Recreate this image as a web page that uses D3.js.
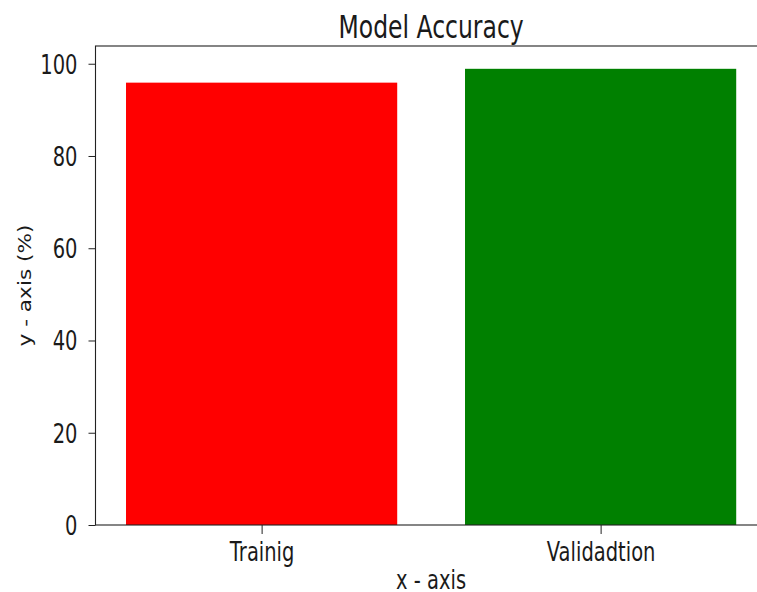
<!DOCTYPE html>
<html>
<head>
<meta charset="utf-8">
<script src="https://cdn.jsdelivr.net/npm/d3@7"></script>
<style>
  body { margin: 0; background: #fff; }
  text { font-family: "DejaVu Sans", sans-serif; fill: #1a1a1a; }
</style>
</head>
<body>
<svg id="chart" width="757" height="592"></svg>
<script>
// data
var categories = ["Trainig", "Validadtion"];
var accuracy = [95.9, 98.9];
var barColors = ["#ff0000", "#008000"];
var yTicks = [0, 20, 40, 60, 80, 100];

// the reference looks stretched vertically, so text gets squashed the same way
var K = 1.33;
var FS = 19.5;

var svg = d3.select('#chart');

var plotLeft = 95.5, plotTop = 46, plotBottom = 525;
var step = 339;

// matplotlib style x limits: bars at 0..n-1, width 0.8, 5% margins
var x = d3.scaleLinear()
  .domain([-0.49, categories.length - 1 + 0.49])
  .range([plotLeft, plotLeft + 1.98 * step]);

var y = d3.scaleLinear()
  .domain([0, d3.max(accuracy) * 1.05])
  .range([plotBottom, plotTop]);

// bars
svg.append('g').selectAll('rect')
  .data(accuracy)
  .enter()
  .append('rect')
  .attr('x', function(d, i) { return x(i - 0.4); })
  .attr('width', function(d, i) { return x(i + 0.4) - x(i - 0.4); })
  .attr('y', function(d) { return y(d); })
  .attr('height', function(d) { return y(0) - y(d); })
  .attr('fill', function(d, i) { return barColors[i]; });

// x axis
var xAxis = svg.append('g')
  .attr('transform', 'translate(0,' + plotBottom + ')')
  .call(d3.axisBottom(x)
    .tickValues(d3.range(categories.length))
    .tickFormat(function(i) { return categories[i]; })
    .tickSize(9)
    .tickSizeOuter(0));
xAxis.select('.domain').remove();
xAxis.selectAll('.tick line').attr('stroke', '#222').attr('stroke-width', 1);
xAxis.selectAll('.tick text')
  .attr('font-size', FS)
  .attr('font-family', '"DejaVu Sans", sans-serif')
  .attr('fill', '#1a1a1a')
  .attr('y', 36 / K)
  .attr('dy', 0)
  .attr('transform', 'scale(1,' + K + ')');

// y axis
var yAxis = svg.append('g')
  .attr('transform', 'translate(' + plotLeft + ',0)')
  .call(d3.axisLeft(y)
    .tickValues(yTicks)
    .tickSize(7)
    .tickSizeOuter(0));
yAxis.select('.domain').remove();
yAxis.selectAll('.tick line').attr('stroke', '#222').attr('stroke-width', 1);
yAxis.selectAll('.tick text')
  .attr('font-size', FS)
  .attr('font-family', '"DejaVu Sans", sans-serif')
  .attr('fill', '#1a1a1a')
  .attr('x', -18)
  .attr('dy', '0.36em')
  .attr('transform', 'scale(1,' + K + ')');

// spines (right one falls just outside the picture)
var plotRight = x.range()[1];
svg.append('rect')
  .attr('x', plotLeft)
  .attr('y', plotTop)
  .attr('width', plotRight - plotLeft)
  .attr('height', plotBottom - plotTop)
  .attr('fill', 'none')
  .attr('stroke', '#222')
  .attr('stroke-width', 1.1);

// title
svg.append('text')
  .attr('transform', 'translate(' + ((plotLeft + plotRight) / 2) + ',37.5) scale(1,' + K + ')')
  .attr('text-anchor', 'middle')
  .attr('font-size', 23.5)
  .text('Model Accuracy');

// axis labels
svg.append('text')
  .attr('transform', 'translate(' + ((plotLeft + plotRight) / 2) + ',589) scale(1,' + K + ')')
  .attr('text-anchor', 'middle')
  .attr('font-size', FS)
  .text('x - axis');

svg.append('text')
  .attr('transform', 'translate(30.5,' + ((plotTop + plotBottom) / 2) + ') rotate(-90) scale(1.17,1)')
  .attr('text-anchor', 'middle')
  .attr('font-size', 18.5)
  .text('y - axis (%)');
</script>
</body>
</html>
